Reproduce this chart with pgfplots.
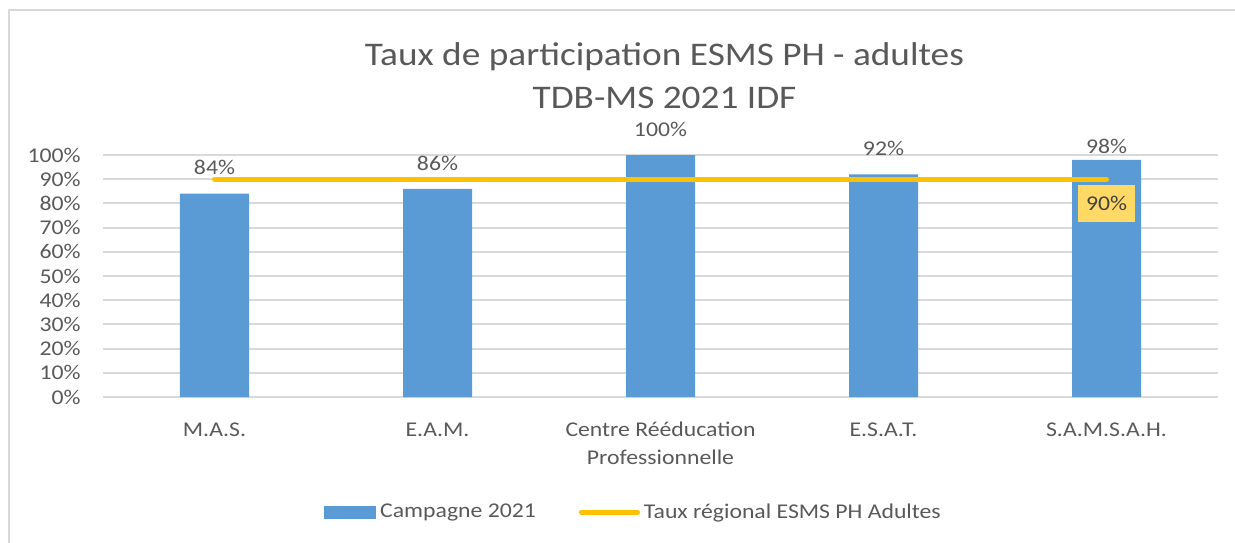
\documentclass[border=0pt]{standalone}
\usepackage{pgfplots}
\pgfplotsset{compat=1.18}
\usepackage{pgfplotstable}
\usepackage{fontspec}
\setmainfont{Carlito}[FakeStretch=1.13]
\definecolor{barblue}{HTML}{5B9BD5}
\definecolor{gold}{HTML}{FFC000}
\definecolor{boxgold}{HTML}{FFD966}
\definecolor{txt}{HTML}{595959}
\definecolor{dtxt}{HTML}{404040}
\definecolor{gridc}{HTML}{D9D9D9}
\pgfplotstableread{
x y dy
0 84 11
1 86 11
2 100 11
3 92 11
4 98 3.6
}\bars
\pgfplotstableread{
x y
0 90
4 90
}\regional
\newcommand\lf{\fontsize{12.6}{16.8}\selectfont}
\begin{document}
\begin{tikzpicture}
\useasboundingbox (-61.8pt,-87pt) rectangle (679.2pt,238.2pt);
\draw[gridc, line width=1.2pt] (-56.4pt,-90pt) -- (-56.4pt,232.2pt) -- (682pt,232.2pt);
\begin{axis}[
  at={(0,0)}, anchor=south west,
  scale only axis, width=669pt, height=145.2pt,
  xmin=-0.5, xmax=4.5, ymin=0, ymax=100,
  clip=false,
  axis line style={draw=none},
  major tick length=0pt,
  /pgf/number format/assume math mode=true,
  xtick={0,1,2,3,4},
  xticklabels={{\strut M.A.S.},{\strut E.A.M.},{\strut Centre Rééducation\\Professionnelle},{\strut E.S.A.T.},{\strut S.A.M.S.A.H.}},
  xticklabel style={font=\lf, text=txt, align=center, anchor=north, inner sep=0pt, yshift=-11.64pt},
  ytick={0,10,20,30,40,50,60,70,80,90,100},
  yticklabels={0\%,10\%,20\%,30\%,40\%,50\%,60\%,70\%,80\%,90\%,100\%},
  yticklabel style={font=\lf, text=txt, anchor=east, inner sep=0pt, xshift=-13.2pt},
  ymajorgrids, grid style={gridc, line width=1.2pt},
  legend columns=-1,
  legend style={draw=none, fill=none, at={(0.5,0)}, anchor=center, yshift=-69pt, xshift=-16.8pt,
    font=\lf, text=txt, nodes={inner sep=0pt},
    /tikz/every odd column/.append style={column sep=2.4pt},
    /tikz/every even column/.append style={column sep=25.8pt}},
]
\addplot[ybar, bar width=41.4pt, fill=barblue, draw=none,
  visualization depends on={\thisrow{dy} \as \dy},
  nodes near coords={\pgfmathprintnumber{\pgfplotspointmeta}\%},
  nodes near coords style={font=\lf, text=txt, inner sep=0pt, anchor=south, yshift=\dy pt},
  legend image code/.code={\fill[barblue] (0pt,-3.9pt) rectangle (31.2pt,3.9pt);}]
  table[x=x, y=y] {\bars};
\addlegendentry{Campagne 2021}
\addplot[gold, line width=3pt, line cap=round, mark=none,
  legend image code/.code={\draw[gold, line width=3pt, line cap=round] (0pt,0pt) -- (33.6pt,0pt);}]
  table[x=x, y=y] {\regional};
\addlegendentry{Taux régional ESMS PH Adultes}
\addplot[draw=none, mark=none, forget plot,
  nodes near coords={\pgfmathprintnumber{\pgfplotspointmeta}\%},
  nodes near coords style={font=\lf, text=dtxt, fill=boxgold, minimum width=34.2pt, minimum height=22.2pt, inner sep=0pt, anchor=center, yshift=-14.6pt}]
  coordinates {(4,90)};
\end{axis}
\node[font=\fontsize{19.8}{23}\selectfont, text=txt, anchor=base] at (336.9pt,199.2pt) {Taux de participation ESMS PH - adultes};
\node[font=\fontsize{19.8}{23}\selectfont, text=txt, anchor=base] at (336.9pt,173.4pt) {TDB-MS 2021 IDF};
\end{tikzpicture}
\end{document}
